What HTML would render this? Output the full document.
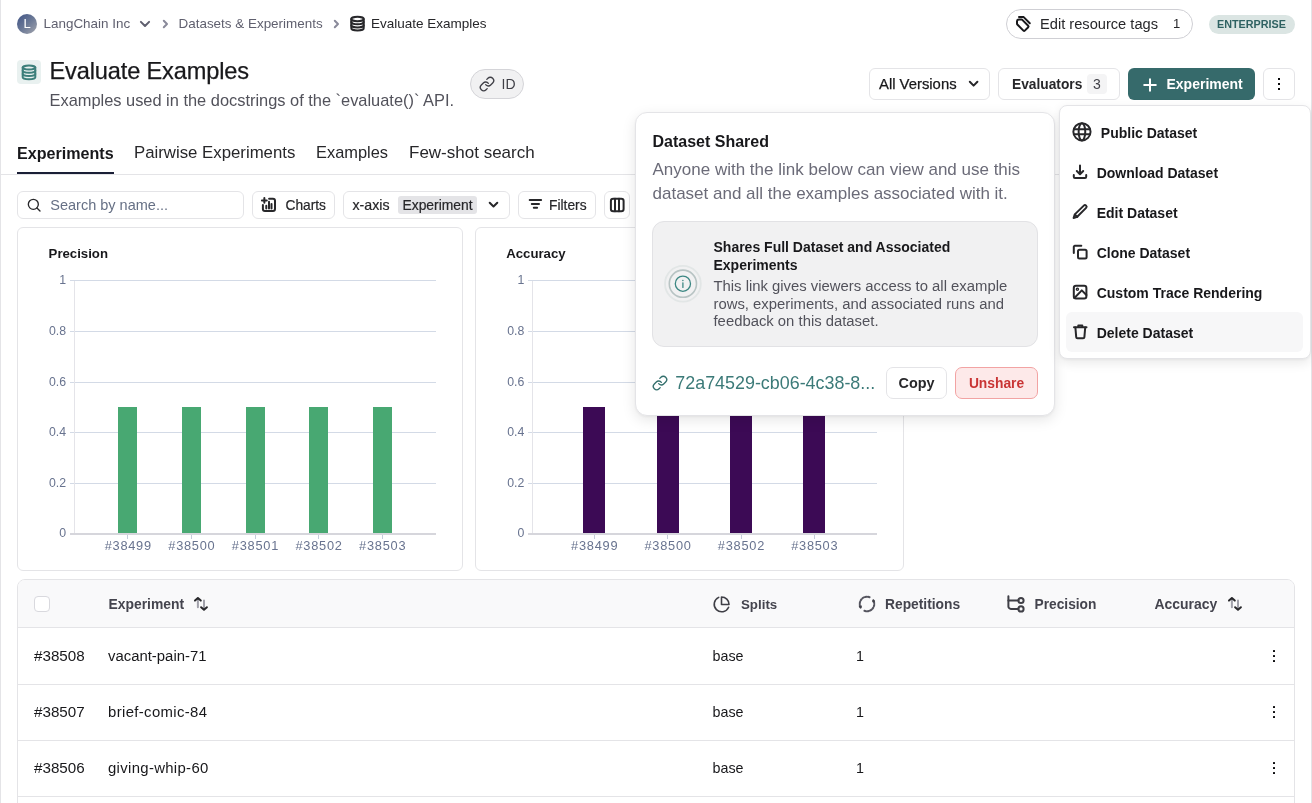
<!DOCTYPE html>
<html><head><meta charset="utf-8">
<style>
*{box-sizing:border-box;margin:0;padding:0}
html,body{width:1312px;height:803px;overflow:hidden;background:#fff}
body{font-family:"Liberation Sans",sans-serif;color:#18181b;position:relative}
.a{position:absolute}
.edge{position:absolute;top:0;bottom:0;width:1px;background:#e4e4e7}
svg{display:block;position:absolute;overflow:visible}
.bx{position:absolute;border:1px solid #e4e4e7;border-radius:6px;background:#fff}
.t{position:absolute;white-space:nowrap;line-height:1}
.ic{fill:none;stroke:currentColor;stroke-width:2;stroke-linecap:round;stroke-linejoin:round}
</style></head>
<body><div id="root" style="position:absolute;left:0;top:0;width:1312px;height:803px;overflow:hidden;will-change:transform">
<div class="edge" style="left:0"></div>
<div class="edge" style="left:1311px"></div>

<!-- ===== breadcrumb ===== -->
<div class="a" style="left:17px;top:14px;width:20px;height:20px;border-radius:50%;background:linear-gradient(135deg,#3f5386 0%,#6a7896 50%,#a4a6ae 100%);"></div>
<div class="t" style="left:17px;top:16.8px;width:20px;text-align:center;color:#fff;font-size:13px">L</div>
<div class="t" style="left:43.5px;top:16.5px;font-size:13.45px;color:#5f5f6e">LangChain Inc</div>
<svg style="left:140px;top:21px;color:#5f5f6e" width="10" height="6" viewBox="0 0 10 6"><path class="ic" d="M0.9 0.9L5 5l4.1-4.1" stroke-width="1.0"/></svg>
<svg style="left:163px;top:19.8px;color:#8a8a9a" width="5" height="8" viewBox="0 0 5 8"><path class="ic" d="M0.8 0.8L4 4 0.8 7.2" stroke-width="0.95"/></svg>
<div class="t" style="left:178.5px;top:16.5px;font-size:13.45px;color:#5f5f6e">Datasets &amp; Experiments</div>
<svg style="left:334px;top:19.8px;color:#8a8a9a" width="5" height="8" viewBox="0 0 5 8"><path class="ic" d="M0.8 0.8L4 4 0.8 7.2" stroke-width="0.95"/></svg>
<svg style="left:349.5px;top:16px;color:#27272a" width="15" height="15" viewBox="0 0 15 15"><g class="ic" stroke-width="1.25"><ellipse cx="7.5" cy="3" rx="6.2" ry="2.2"/><path d="M1.3 3v9.2c0 1.2 2.8 2.2 6.2 2.2s6.2-1 6.2-2.2V3"/><path d="M1.3 6.1c0 1.2 2.8 2.2 6.2 2.2s6.2-1 6.2-2.2"/><path d="M1.3 9.2c0 1.2 2.8 2.2 6.2 2.2s6.2-1 6.2-2.2"/></g></svg>
<div class="t" style="left:371px;top:16.5px;font-size:13.5px;color:#27272a">Evaluate Examples</div>

<!-- top-right -->
<div class="a" style="left:1006px;top:9px;width:187px;height:30px;border:1px solid #cfcfd4;border-radius:15px"></div>
<svg style="left:1015px;top:16px;color:#18181b" width="16" height="16" viewBox="0 0 16 16"><g class="ic" stroke-width="1.2"><path d="M2 5.3Q2 3.4 4 3.4H6.8L13.2 9.8Q13.9 10.5 13.2 11.2L9.8 14.6Q9.1 15.3 8.4 14.6L2.6 8.8Q2 8.2 2 7.4Z"/><path d="M4 1.1H8.7L14.8 7.2"/></g></svg>
<div class="t" style="left:1040px;top:16.6px;font-size:14.65px;color:#27272a">Edit resource tags</div>
<div class="t" style="left:1173px;top:16.5px;font-size:13px;color:#27272a">1</div>
<div class="a" style="left:1209px;top:15px;width:86px;height:19px;border-radius:10px;background:#dbe5e3"></div>
<div class="t" style="left:1217px;top:19.2px;font-size:10.8px;font-weight:bold;color:#2f6262">ENTERPRISE</div>

<!-- ===== title ===== -->
<div class="a" style="left:17px;top:60px;width:24px;height:24px;border-radius:4px;background:#e9f1f0"></div>
<svg style="left:22px;top:64.5px;color:#3d7f7b" width="14" height="15" viewBox="0 0 14 15"><g class="ic" stroke-width="1.15"><ellipse cx="7" cy="2.6" rx="6.3" ry="2"/><path d="M0.7 2.6v9.6c0 1.1 2.8 2 6.3 2s6.3-.9 6.3-2V2.6"/><path d="M0.7 5.8c0 1.1 2.8 2 6.3 2s6.3-.9 6.3-2"/><path d="M0.7 9c0 1.1 2.8 2 6.3 2s6.3-.9 6.3-2"/></g></svg>
<div class="t" style="left:49.5px;top:60.4px;font-size:23.6px;letter-spacing:-0.15px;color:#18181b;-webkit-text-stroke:0.25px #18181b">Evaluate Examples</div>
<div class="t" style="left:49.5px;top:91.7px;font-size:16.4px;color:#52525b">Examples used in the docstrings of the `evaluate()` API.</div>

<div class="a" style="left:470px;top:69px;width:54px;height:30px;border:1px solid #d4d4d8;border-radius:15px;background:#f1f1f2"></div>
<svg style="left:479px;top:76px;color:#3f3f46" width="16" height="16" viewBox="0 0 24 24"><g class="ic" stroke-width="1.9"><path d="M10 13a5 5 0 0 0 7.5.5l3-3a5 5 0 0 0-7.1-7.1l-1.7 1.7"/><path d="M14 11a5 5 0 0 0-7.5-.5l-3 3a5 5 0 0 0 7.1 7.1l1.7-1.7"/></g></svg>
<div class="t" style="left:501.5px;top:77px;font-size:14px;color:#3f3f46">ID</div>

<!-- right buttons -->
<div class="bx" style="left:869px;top:68px;width:121px;height:32px"></div>
<div class="t" style="left:879px;top:76.5px;font-size:14.85px;color:#18181b;-webkit-text-stroke:0.25px #18181b">All Versions</div>
<svg style="left:968.5px;top:81px;color:#27272a" width="10" height="6" viewBox="0 0 10 6"><path class="ic" d="M0.8 0.8L4.6 4.6 8.4 0.8" stroke-width="1.25"/></svg>
<div class="bx" style="left:998px;top:68px;width:122px;height:32px"></div>
<div class="t" style="left:1012px;top:77.5px;font-size:13.75px;font-weight:bold;color:#27272a">Evaluators</div>
<div class="a" style="left:1087px;top:74px;width:20px;height:20px;border-radius:4px;background:#f4f4f5"></div>
<div class="t" style="left:1087px;top:76.8px;width:20px;text-align:center;font-size:14px;color:#3f3f46">3</div>
<div class="a" style="left:1128px;top:68px;width:127px;height:32px;border-radius:6px;background:#366a6b"></div>
<svg style="left:1143px;top:77.5px;color:#fff" width="14" height="14" viewBox="0 0 14 14"><path class="ic" d="M7 1.2v11.6M1.2 7h11.6" stroke-width="1.5"/></svg>
<div class="t" style="left:1166.5px;top:77.3px;font-size:14px;font-weight:bold;color:#fff">Experiment</div>
<div class="bx" style="left:1263px;top:68px;width:32px;height:32px"></div>
<div class="a" style="left:1278px;top:78px;width:2px;height:2px;background:#09090b"></div>
<div class="a" style="left:1278px;top:83px;width:2px;height:2px;background:#09090b"></div>
<div class="a" style="left:1278px;top:88px;width:2px;height:2px;background:#09090b"></div>

<!-- ===== tabs ===== -->
<div class="a" style="left:1px;top:174px;width:1310px;height:1px;background:#e4e4e7"></div>
<div class="a" style="left:17px;top:172px;width:97px;height:2px;background:#1a1f36"></div>
<div class="t" style="left:17px;top:144.62px;font-size:16.1px;font-weight:bold;color:#18181b">Experiments</div>
<div class="t" style="left:134px;top:145.02px;font-size:16.8px;color:#27272a">Pairwise Experiments</div>
<div class="t" style="left:316px;top:144.36px;font-size:16.4px;color:#27272a">Examples</div>
<div class="t" style="left:409px;top:143.85px;font-size:17px;color:#27272a">Few-shot search</div>

<!-- ===== toolbar ===== -->
<div class="bx" style="left:17px;top:191px;width:227px;height:28px"></div>
<svg style="left:26px;top:197px;color:#27272a" width="16" height="16" viewBox="0 0 24 24"><g class="ic" stroke-width="2.2"><circle cx="11" cy="11" r="7.5"/><path d="M16.5 16.5L21 21"/></g></svg>
<div class="t" style="left:50.3px;top:197.6px;font-size:14.5px;color:#667085">Search by name...</div>

<div class="bx" style="left:252px;top:191px;width:83px;height:28px"></div>
<svg style="left:256px;top:193px;color:#27272a" width="26" height="24" viewBox="0 0 26 24"><g class="ic" stroke-width="1.2"><path d="M5.9 7.4h4.9M8.35 5v4.8"/><path d="M13.1 5.8H17a2 2 0 0 1 2 2v8.1a2 2 0 0 1-2 2H8.9a2 2 0 0 1-2-2V12"/><path d="M10.3 12.7v2.8M13 8.8v6.7M15.5 11.1v4.4"/></g></svg>
<div class="t" style="left:285.5px;top:199px;font-size:13.75px;color:#27272a;-webkit-text-stroke:0.2px #27272a">Charts</div>

<div class="bx" style="left:343px;top:191px;width:167px;height:28px"></div>
<div class="t" style="left:352.5px;top:198px;font-size:14.2px;color:#27272a;-webkit-text-stroke:0.2px #27272a">x-axis</div>
<div class="a" style="left:398px;top:196px;width:79px;height:18px;border-radius:3px;background:#e4e4e7"></div>
<div class="t" style="left:402.5px;top:199px;font-size:13.85px;color:#27272a;-webkit-text-stroke:0.2px #27272a">Experiment</div>
<svg style="left:489px;top:202px;color:#27272a" width="10" height="6" viewBox="0 0 10 6"><path class="ic" d="M0.7 0.7L4.5 4.5 8.3 0.7" stroke-width="1.25"/></svg>

<div class="bx" style="left:518px;top:191px;width:78px;height:28px"></div>
<svg style="left:524px;top:192px;color:#27272a" width="24" height="24" viewBox="0 0 24 24"><g class="ic" stroke-width="1.55"><path d="M5.7 7.9h11.4M7.8 12h7.2M9.8 15.8h3.3"/></g></svg>
<div class="t" style="left:549px;top:199px;font-size:13.8px;color:#27272a;-webkit-text-stroke:0.2px #27272a">Filters</div>

<div class="bx" style="left:604px;top:191px;width:26px;height:28px"></div>
<svg style="left:604px;top:191px;color:#27272a" width="28" height="28" viewBox="0 0 28 28"><g class="ic" stroke-width="1.45"><rect x="6.9" y="7.7" width="12.7" height="12.6" rx="2.3"/><path d="M11 7.7v12.6M15 7.7v12.6"/></g></svg>

<!-- CHARTS_START -->
<!-- charts -->
<div class="bx" style="left:17px;top:227px;width:446px;height:344px"></div>
<div class="t" style="left:48.6px;top:246.8px;font-size:13.2px;font-weight:bold;color:#18181b">Precision</div>
<div class="a" style="left:69.5px;top:280.3px;width:366.5px;height:1px;background:#d3dae6"></div>
<div class="t" style="left:13.5px;width:52.5px;text-align:right;top:274.3px;font-size:12.3px;color:#68738f">1</div>
<div class="a" style="left:69.5px;top:330.9px;width:366.5px;height:1px;background:#d3dae6"></div>
<div class="t" style="left:13.5px;width:52.5px;text-align:right;top:324.9px;font-size:12.3px;color:#68738f">0.8</div>
<div class="a" style="left:69.5px;top:381.5px;width:366.5px;height:1px;background:#d3dae6"></div>
<div class="t" style="left:13.5px;width:52.5px;text-align:right;top:375.5px;font-size:12.3px;color:#68738f">0.6</div>
<div class="a" style="left:69.5px;top:432.1px;width:366.5px;height:1px;background:#d3dae6"></div>
<div class="t" style="left:13.5px;width:52.5px;text-align:right;top:426.1px;font-size:12.3px;color:#68738f">0.4</div>
<div class="a" style="left:69.5px;top:482.7px;width:366.5px;height:1px;background:#d3dae6"></div>
<div class="t" style="left:13.5px;width:52.5px;text-align:right;top:476.7px;font-size:12.3px;color:#68738f">0.2</div>
<div class="t" style="left:13.5px;width:52.5px;text-align:right;top:527.0px;font-size:12.3px;color:#68738f">0</div>
<div class="a" style="left:73.5px;top:281px;width:1px;height:252px;background:#e4e4e9"></div>
<div class="a" style="left:118.4px;top:407.2px;width:19px;height:126.3px;background:#48a872"></div>
<div class="a" style="left:127.4px;top:535px;width:1px;height:3.5px;background:#c5cddb"></div>
<div class="a" style="left:182.0px;top:407.2px;width:19px;height:126.3px;background:#48a872"></div>
<div class="a" style="left:191.0px;top:535px;width:1px;height:3.5px;background:#c5cddb"></div>
<div class="a" style="left:245.6px;top:407.2px;width:19px;height:126.3px;background:#48a872"></div>
<div class="a" style="left:254.6px;top:535px;width:1px;height:3.5px;background:#c5cddb"></div>
<div class="a" style="left:309.2px;top:407.2px;width:19px;height:126.3px;background:#48a872"></div>
<div class="a" style="left:318.2px;top:535px;width:1px;height:3.5px;background:#c5cddb"></div>
<div class="a" style="left:372.8px;top:407.2px;width:19px;height:126.3px;background:#48a872"></div>
<div class="a" style="left:381.8px;top:535px;width:1px;height:3.5px;background:#c5cddb"></div>
<div class="a" style="left:69.5px;top:532.5px;width:366.5px;height:2px;background:#d6d6dc"></div>
<div class="t" style="left:88.275px;width:80px;text-align:center;top:540.2px;font-size:12.8px;color:#68738f;letter-spacing:0.75px">#38499</div>
<div class="t" style="left:151.875px;width:80px;text-align:center;top:540.2px;font-size:12.8px;color:#68738f;letter-spacing:0.75px">#38500</div>
<div class="t" style="left:215.475px;width:80px;text-align:center;top:540.2px;font-size:12.8px;color:#68738f;letter-spacing:0.75px">#38501</div>
<div class="t" style="left:279.075px;width:80px;text-align:center;top:540.2px;font-size:12.8px;color:#68738f;letter-spacing:0.75px">#38502</div>
<div class="t" style="left:342.675px;width:80px;text-align:center;top:540.2px;font-size:12.8px;color:#68738f;letter-spacing:0.75px">#38503</div>
<div class="bx" style="left:475px;top:227px;width:429px;height:344px"></div>
<div class="t" style="left:506.2px;top:246.8px;font-size:13.2px;font-weight:bold;color:#18181b">Accuracy</div>
<div class="a" style="left:527.9px;top:280.3px;width:349.1px;height:1px;background:#d3dae6"></div>
<div class="t" style="left:471.9px;width:52.5px;text-align:right;top:274.3px;font-size:12.3px;color:#68738f">1</div>
<div class="a" style="left:527.9px;top:330.9px;width:349.1px;height:1px;background:#d3dae6"></div>
<div class="t" style="left:471.9px;width:52.5px;text-align:right;top:324.9px;font-size:12.3px;color:#68738f">0.8</div>
<div class="a" style="left:527.9px;top:381.5px;width:349.1px;height:1px;background:#d3dae6"></div>
<div class="t" style="left:471.9px;width:52.5px;text-align:right;top:375.5px;font-size:12.3px;color:#68738f">0.6</div>
<div class="a" style="left:527.9px;top:432.1px;width:349.1px;height:1px;background:#d3dae6"></div>
<div class="t" style="left:471.9px;width:52.5px;text-align:right;top:426.1px;font-size:12.3px;color:#68738f">0.4</div>
<div class="a" style="left:527.9px;top:482.7px;width:349.1px;height:1px;background:#d3dae6"></div>
<div class="t" style="left:471.9px;width:52.5px;text-align:right;top:476.7px;font-size:12.3px;color:#68738f">0.2</div>
<div class="t" style="left:471.9px;width:52.5px;text-align:right;top:527.0px;font-size:12.3px;color:#68738f">0</div>
<div class="a" style="left:531.9px;top:281px;width:1px;height:252px;background:#e4e4e9"></div>
<div class="a" style="left:583.1999999999999px;top:407.2px;width:22.2px;height:126.3px;background:#3c0a55"></div>
<div class="a" style="left:593.8px;top:535px;width:1px;height:3.5px;background:#c5cddb"></div>
<div class="a" style="left:656.6px;top:407.2px;width:22.2px;height:126.3px;background:#3c0a55"></div>
<div class="a" style="left:667.2px;top:535px;width:1px;height:3.5px;background:#c5cddb"></div>
<div class="a" style="left:730.0px;top:407.2px;width:22.2px;height:126.3px;background:#3c0a55"></div>
<div class="a" style="left:740.6px;top:535px;width:1px;height:3.5px;background:#c5cddb"></div>
<div class="a" style="left:803.3px;top:407.2px;width:22.2px;height:126.3px;background:#3c0a55"></div>
<div class="a" style="left:813.9px;top:535px;width:1px;height:3.5px;background:#c5cddb"></div>
<div class="a" style="left:527.9px;top:532.5px;width:349.1px;height:2px;background:#d6d6dc"></div>
<div class="t" style="left:554.675px;width:80px;text-align:center;top:540.2px;font-size:12.8px;color:#68738f;letter-spacing:0.75px">#38499</div>
<div class="t" style="left:628.075px;width:80px;text-align:center;top:540.2px;font-size:12.8px;color:#68738f;letter-spacing:0.75px">#38500</div>
<div class="t" style="left:701.475px;width:80px;text-align:center;top:540.2px;font-size:12.8px;color:#68738f;letter-spacing:0.75px">#38502</div>
<div class="t" style="left:774.775px;width:80px;text-align:center;top:540.2px;font-size:12.8px;color:#68738f;letter-spacing:0.75px">#38503</div>
<!-- CHARTS_END -->

<!-- TABLE_START -->
<div class="a" style="left:17px;top:579px;width:1278px;height:240px;border:1px solid #e4e4e7;border-radius:8px;overflow:hidden;background:#fff">
<div class="a" style="left:0;top:0;width:1276px;height:48px;background:#f9f9fa;border-bottom:1px solid #e4e4e7"></div>
<div class="a" style="left:0;top:104px;width:1276px;height:1px;background:#e4e4e7"></div>
<div class="a" style="left:0;top:160px;width:1276px;height:1px;background:#e4e4e7"></div>
<div class="a" style="left:0;top:216px;width:1276px;height:1px;background:#e4e4e7"></div>
</div>
<div class="a" style="left:34px;top:596px;width:16px;height:16px;border:1px solid #d9d9de;border-radius:4px;background:#fff"></div>
<div class="t" style="left:108.5px;top:597.7px;font-size:13.9px;font-weight:bold;color:#44444e">Experiment</div>
<svg style="left:190px;top:593px" width="22" height="22" viewBox="0 0 22 22"><g class="ic" stroke-width="1.3"><path d="M7.9 5.6V14.2M14 7.6V16.2" stroke="#a1a1aa"/><path d="M5 7.6L7.9 5.1 10.8 7.6M11.1 14.2L14 16.7 16.9 14.2" stroke="#27272a"/></g></svg>
<svg style="left:712px;top:595px;color:#3f3f46" width="19" height="19" viewBox="0 0 24 24"><g class="ic" stroke-width="2"><path d="M21 15.5A9.5 9.5 0 1 1 8.5 3"/><path d="M12 2.5a9.5 9.5 0 0 1 9.5 9.5H12z"/></g></svg>
<div class="t" style="left:741px;top:597.7px;font-size:13.9px;font-weight:bold;color:#44444e;font-size:13.3px">Splits</div>
<svg style="left:855px;top:592px;color:#3f3f46" width="24" height="24" viewBox="0 0 24 24"><g class="ic" stroke-width="1.1"><path d="M14.6 5.2A7.3 7.3 0 0 0 5.6 15.5" stroke-dasharray="1.6 1.3" stroke="#55555f"/><path d="M9.4 18.8A7.3 7.3 0 0 0 18.3 8.35" stroke-dasharray="1.6 1.3" stroke="#55555f"/><path d="M4.5 14.7L5.7 15.6 6.2 14.2M19.4 9.1L18.3 8.3 17.9 9.7" stroke-width="1.4"/></g></svg>
<div class="t" style="left:885px;top:597.7px;font-size:13.9px;font-weight:bold;color:#44444e;font-size:13.8px">Repetitions</div>
<svg style="left:1002px;top:592px;color:#3f3f46" width="28" height="24" viewBox="0 0 28 24"><g class="ic" stroke-width="1.3"><path d="M6.4 4.2V14.4a2.5 2.5 0 0 0 2.5 2.5H16.4"/><path d="M6.4 8.5H16.4"/><circle cx="19" cy="8.5" r="2.6"/><circle cx="19" cy="16.9" r="2.6"/></g></svg>
<div class="t" style="left:1034.5px;top:597.7px;font-size:13.9px;font-weight:bold;color:#44444e;font-size:13.75px">Precision</div>
<div class="t" style="left:1154.5px;top:597.7px;font-size:13.9px;font-weight:bold;color:#44444e;font-size:13.95px">Accuracy</div>
<svg style="left:1223.5px;top:593px" width="22" height="22" viewBox="0 0 22 22"><g class="ic" stroke-width="1.3"><path d="M7.9 5.6V14.2M14 7.6V16.2" stroke="#a1a1aa"/><path d="M5 7.6L7.9 5.1 10.8 7.6M11.1 14.2L14 16.7 16.9 14.2" stroke="#27272a"/></g></svg>
<div class="t" style="left:34px;top:648.3px;font-size:15.2px;color:#18181b">#38508</div>
<div class="t" style="left:108px;top:649.1px;font-size:14.9px;letter-spacing:0px;color:#18181b">vacant-pain-71</div>
<div class="t" style="left:712.5px;top:649.1px;font-size:14.3px;color:#18181b">base</div>
<div class="t" style="left:856px;top:649.1px;font-size:14.3px;color:#18181b">1</div>
<div class="a" style="left:1273px;top:650px;width:2.2px;height:2.2px;border-radius:0.5px;background:#09090b"></div>
<div class="a" style="left:1273px;top:655px;width:2.2px;height:2.2px;border-radius:0.5px;background:#09090b"></div>
<div class="a" style="left:1273px;top:660px;width:2.2px;height:2.2px;border-radius:0.5px;background:#09090b"></div>
<div class="t" style="left:34px;top:704.3px;font-size:15.2px;color:#18181b">#38507</div>
<div class="t" style="left:108px;top:705.1px;font-size:14.9px;letter-spacing:0.36px;color:#18181b">brief-comic-84</div>
<div class="t" style="left:712.5px;top:705.1px;font-size:14.3px;color:#18181b">base</div>
<div class="t" style="left:856px;top:705.1px;font-size:14.3px;color:#18181b">1</div>
<div class="a" style="left:1273px;top:706px;width:2.2px;height:2.2px;border-radius:0.5px;background:#09090b"></div>
<div class="a" style="left:1273px;top:711px;width:2.2px;height:2.2px;border-radius:0.5px;background:#09090b"></div>
<div class="a" style="left:1273px;top:716px;width:2.2px;height:2.2px;border-radius:0.5px;background:#09090b"></div>
<div class="t" style="left:34px;top:760.3px;font-size:15.2px;color:#18181b">#38506</div>
<div class="t" style="left:108px;top:761.1px;font-size:14.9px;letter-spacing:0.33px;color:#18181b">giving-whip-60</div>
<div class="t" style="left:712.5px;top:761.1px;font-size:14.3px;color:#18181b">base</div>
<div class="t" style="left:856px;top:761.1px;font-size:14.3px;color:#18181b">1</div>
<div class="a" style="left:1273px;top:762px;width:2.2px;height:2.2px;border-radius:0.5px;background:#09090b"></div>
<div class="a" style="left:1273px;top:767px;width:2.2px;height:2.2px;border-radius:0.5px;background:#09090b"></div>
<div class="a" style="left:1273px;top:772px;width:2.2px;height:2.2px;border-radius:0.5px;background:#09090b"></div>
<!-- TABLE_END -->

<!-- POP_START -->
<div class="a" style="left:635px;top:112px;width:420px;height:303.6px;border:1px solid #e4e4e7;border-radius:12px;background:#fff;box-shadow:0 4px 14px rgba(0,0,0,0.10),0 1px 3px rgba(0,0,0,0.05)"></div>
<div class="t" style="left:652.5px;top:133.6px;font-size:16px;font-weight:bold;color:#18181b">Dataset Shared</div>
<div class="t" style="left:652.5px;top:161px;font-size:17px;color:#6b6b78">Anyone with the link below can view and use this</div>
<div class="t" style="left:652.5px;top:185.1px;font-size:17px;color:#6b6b78">dataset and all the examples associated with it.</div>
<div class="a" style="left:652px;top:221px;width:386px;height:125.5px;border:1px solid #e2e2e5;border-radius:12px;background:#f1f1f2"></div>
<svg style="left:662px;top:263px" width="42" height="42" viewBox="0 0 42 42"><circle cx="20.9" cy="20.7" r="17.9" fill="none" stroke="#e2e6e6" stroke-width="1.8"/><circle cx="20.9" cy="20.7" r="13.6" fill="none" stroke="#b8c4c4" stroke-width="1.6"/><circle cx="20.9" cy="20.7" r="7.6" fill="none" stroke="#3c8783" stroke-width="1.3"/><path d="M20.9 19.8v4.6" stroke="#3c8783" stroke-width="1.3" stroke-linecap="round"/><circle cx="20.9" cy="17.4" r="0.75" fill="#3c8783"/></svg>
<div class="t" style="left:713.5px;top:239.6px;font-size:14px;font-weight:bold;color:#18181b">Shares Full Dataset and Associated</div>
<div class="t" style="left:713.5px;top:258.4px;font-size:14px;font-weight:bold;color:#18181b">Experiments</div>
<div class="t" style="left:713.5px;top:279.2px;font-size:14.85px;color:#52525b">This link gives viewers access to all example</div>
<div class="t" style="left:713.5px;top:296.6px;font-size:14.85px;color:#52525b">rows, experiments, and associated runs and</div>
<div class="t" style="left:713.5px;top:313.7px;font-size:14.85px;color:#52525b">feedback on this dataset.</div>
<svg style="left:651.5px;top:374.6px;color:#336f6c" width="16" height="16" viewBox="0 0 24 24"><g class="ic" stroke-width="2.1"><path d="M10 13a5 5 0 0 0 7.5.5l3-3a5 5 0 0 0-7.1-7.1l-1.7 1.7"/><path d="M14 11a5 5 0 0 0-7.5-.5l-3 3a5 5 0 0 0 7.1 7.1l1.7-1.7"/></g></svg>
<div class="t" style="left:675.3px;top:375.4px;font-size:17.9px;color:#3b7a78">72a74529-cb06-4c38-8...</div>
<div class="a" style="left:886px;top:367px;width:61px;height:32px;border:1px solid #e4e4e7;border-radius:7px;background:#fff"></div>
<div class="t" style="left:886px;width:61px;text-align:center;top:376.1px;font-size:14.4px;font-weight:bold;color:#27272a">Copy</div>
<div class="a" style="left:955px;top:367px;width:83px;height:32px;border:1px solid #f2a3a3;border-radius:7px;background:#fde9e9"></div>
<div class="t" style="left:955px;width:83px;text-align:center;top:376.6px;font-size:13.8px;font-weight:bold;color:#c93434">Unshare</div>
<div class="a" style="left:1059px;top:105px;width:251.5px;height:254px;border:1px solid #e4e4e7;border-radius:8px;background:#fff;box-shadow:0 4px 12px rgba(0,0,0,0.09),0 1px 3px rgba(0,0,0,0.05)"></div>
<div class="a" style="left:1066px;top:312px;width:237px;height:40px;border-radius:6px;background:#f7f7f8"></div>
<svg style="left:1068px;top:118px;color:#27272a" width="28" height="28" viewBox="0 0 28 28"><g class="ic" stroke-width="1.25"><circle cx="13.95" cy="13.8" r="8.6"/><path d="M5.9 11.2H22M5.9 16.3H22"/><ellipse cx="13.95" cy="13.8" rx="3.3" ry="8.6"/></g></svg>
<svg style="left:1072px;top:164px;color:#27272a" width="16" height="16" viewBox="0 0 16 16"><g class="ic" stroke-width="1.3"><path d="M8 1.5v8.5M4.8 7l3.2 3.2L11.2 7"/><path d="M1.8 11v1.8a1.2 1.2 0 0 0 1.2 1.2h10a1.2 1.2 0 0 0 1.2-1.2V11"/></g></svg>
<svg style="left:1072px;top:204px;color:#27272a" width="16" height="16" viewBox="0 0 16 16"><g class="ic" stroke-width="1.25"><path d="M11.8 1.6a1.6 1.6 0 0 1 2.3 2.3L5.2 12.8 1.6 14l1.2-3.6z"/><path d="M3 10.6l2.3 2.3"/></g></svg>
<svg style="left:1072px;top:244px;color:#27272a" width="16" height="16" viewBox="0 0 16 16"><g class="ic" stroke-width="1.25"><rect x="6" y="5.8" width="8.6" height="8.6" rx="1.5"/><path d="M1.8 9V2.8a1 1 0 0 1 1-1h6.5"/></g></svg>
<svg style="left:1072px;top:284px;color:#27272a" width="16" height="16" viewBox="0 0 16 16"><g class="ic" stroke-width="1.3"><rect x="1.8" y="1.8" width="12.6" height="12.6" rx="2.2"/><circle cx="5.4" cy="5.2" r="1.1" stroke-width="1.3"/><path d="M2.4 14l7.4-7.6 4.6 4.6"/></g></svg>
<svg style="left:1072px;top:324px;color:#27272a" width="16" height="16" viewBox="0 0 16 16"><g class="ic" stroke-width="1.3"><path d="M2 3.2h12.5"/><path d="M6.3 3V1.6h4V3" /><path d="M3.4 3.5l.8 9.6a1.3 1.3 0 0 0 1.3 1.2h5.6a1.3 1.3 0 0 0 1.3-1.2l.8-9.6"/></g></svg>
<div class="t" style="left:1100.8px;top:126.1px;font-size:14px;font-weight:bold;color:#18181b">Public Dataset</div>
<div class="t" style="left:1096.7px;top:166.1px;font-size:14px;font-weight:bold;color:#18181b">Download Dataset</div>
<div class="t" style="left:1096.7px;top:206.1px;font-size:14px;font-weight:bold;color:#18181b">Edit Dataset</div>
<div class="t" style="left:1096.7px;top:246.1px;font-size:14px;font-weight:bold;color:#18181b">Clone Dataset</div>
<div class="t" style="left:1096.7px;top:286.1px;font-size:14px;font-weight:bold;color:#18181b">Custom Trace Rendering</div>
<div class="t" style="left:1096.7px;top:326.1px;font-size:14px;font-weight:bold;color:#18181b">Delete Dataset</div>
<!-- POP_END -->



</div></body></html>
